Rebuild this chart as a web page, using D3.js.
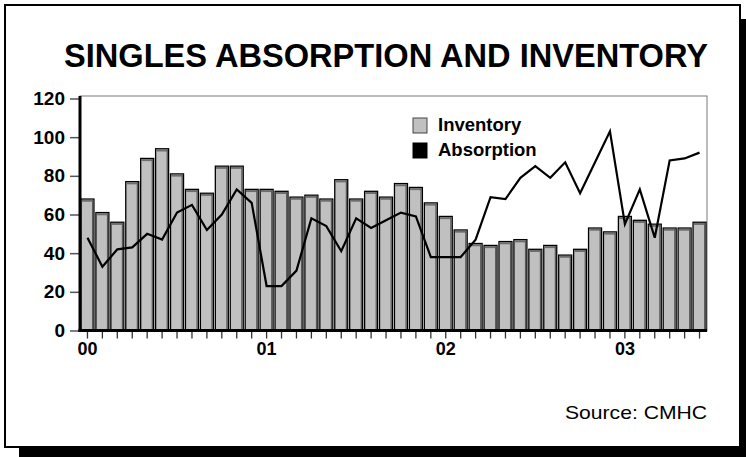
<!DOCTYPE html>
<html>
<head>
<meta charset="utf-8">
<script src="https://cdn.jsdelivr.net/npm/d3@7/dist/d3.min.js"></script>
<style>
  body { margin: 0; background: #fff; }
  svg { display: block; font-family: "Liberation Sans", Arial, sans-serif; }
</style>
</head>
<body>
<svg width="746" height="457"></svg>
<script>
// monthly periods, Jan 2000 to Jun 2003
const months = [
  "00-01", "00-02", "00-03", "00-04", "00-05", "00-06", "00-07", "00-08", "00-09", "00-10", "00-11", "00-12",
  "01-01", "01-02", "01-03", "01-04", "01-05", "01-06", "01-07", "01-08", "01-09", "01-10", "01-11", "01-12",
  "02-01", "02-02", "02-03", "02-04", "02-05", "02-06", "02-07", "02-08", "02-09", "02-10", "02-11", "02-12",
  "03-01", "03-02", "03-03", "03-04", "03-05", "03-06"
];

const inventory = [
  68, 61, 56, 77, 89, 94, 81, 73, 71, 85, 85, 73,
  73, 72, 69, 70, 68, 78, 68, 72, 69, 76, 74, 66,
  59, 52, 45, 44, 46, 47, 42, 44, 39, 42, 53, 51,
  59, 57, 55, 53, 53, 56
];

const absorption = [
  48, 33, 42, 43, 50, 47, 61, 65, 52, 60, 73, 66,
  23, 23, 31, 58, 54, 41, 58, 53, 57, 61, 59, 38,
  38, 38, 47, 69, 68, 79, 85, 79, 87, 71, 87, 103,
  55, 73, 48, 88, 89, 92
];

const yearTicks = ["00-01", "01-01", "02-01", "03-01"];
const yearLabels = ["00", "01", "02", "03"];
const yTicks = [0, 20, 40, 60, 80, 100, 120];
const seriesNames = ["Inventory", "Absorption"];
const title = "SINGLES ABSORPTION AND INVENTORY";
const source = "Source: CMHC";

const svg = d3.select("svg");

// outer box with drop shadow
svg.append("rect")
  .attr("x", 19).attr("y", 19)
  .attr("width", 740).attr("height", 450)
  .attr("fill", "#000");

svg.append("rect")
  .attr("x", 5).attr("y", 5)
  .attr("width", 735).attr("height", 442)
  .attr("fill", "#fff")
  .attr("stroke", "#000")
  .attr("stroke-width", 2);

svg.append("text")
  .attr("x", 64).attr("y", 67)
  .attr("font-size", 32.5)
  .attr("font-weight", "bold")
  .attr("textLength", 644)
  .attr("lengthAdjust", "spacingAndGlyphs")
  .text(title);

svg.append("text")
  .attr("x", 565).attr("y", 419)
  .attr("font-size", 19)
  .attr("textLength", 142)
  .attr("lengthAdjust", "spacingAndGlyphs")
  .text(source);

// plot area
const plot = { left: 80, right: 707, top: 96, bottom: 331 };

const x = d3.scaleBand()
  .domain(months)
  .range([plot.left, plot.right])
  .paddingInner(0.13)
  .paddingOuter(0.065);

const y = d3.scaleLinear()
  .domain([0, 120])
  .range([330.5, 98.5]);

// frame on top / right
svg.append("rect")
  .attr("x", plot.left).attr("y", plot.top)
  .attr("width", plot.right - plot.left)
  .attr("height", plot.bottom - plot.top)
  .attr("fill", "none")
  .attr("stroke", "#7a7a7a")
  .attr("stroke-width", 1);

// bars
const bars = svg.append("g");
bars.selectAll("rect.bar")
  .data(inventory)
  .join("rect")
  .attr("class", "bar")
  .attr("x", (d, i) => x(months[i]))
  .attr("y", (d) => y(d))
  .attr("width", x.bandwidth())
  .attr("height", (d) => y(0) - y(d))
  .attr("fill", "#c0c0c0")
  .attr("stroke", "#000")
  .attr("stroke-width", 1.3);

// darker top face and right side for the 3d look
bars.selectAll("rect.cap")
  .data(inventory)
  .join("rect")
  .attr("class", "cap")
  .attr("x", (d, i) => x(months[i]) + 0.7)
  .attr("y", (d) => y(d) + 0.7)
  .attr("width", x.bandwidth() - 1.4)
  .attr("height", 2)
  .attr("fill", "#6e6e6e");

bars.selectAll("rect.side")
  .data(inventory)
  .join("rect")
  .attr("class", "side")
  .attr("x", (d, i) => x(months[i]) + x.bandwidth() - 2)
  .attr("y", (d) => y(d) + 0.7)
  .attr("width", 1.3)
  .attr("height", (d) => y(0) - y(d) - 0.7)
  .attr("fill", "#5a5a5a");

// absorption line
const lineGen = d3.line()
  .x((d, i) => x(months[i]) + x.bandwidth() / 2)
  .y((d) => y(d));

svg.append("path")
  .datum(absorption)
  .attr("d", lineGen)
  .attr("fill", "none")
  .attr("stroke", "#000")
  .attr("stroke-width", 2.2)
  .attr("stroke-linejoin", "miter");

// axes
const yAxis = d3.axisLeft(y)
  .tickValues(yTicks)
  .tickSize(10)
  .tickPadding(5);

const yAxisG = svg.append("g")
  .attr("transform", `translate(${plot.left},0)`)
  .call(yAxis);
yAxisG.select(".domain").remove();
yAxisG.selectAll(".tick line").attr("stroke", "#555").attr("stroke-width", 1.5);
yAxisG.selectAll(".tick text")
  .attr("font-family", "Liberation Sans, Arial, sans-serif")
  .attr("font-size", 19)
  .attr("font-weight", "bold")
  .attr("fill", "#000");

const xAxis = d3.axisBottom(x)
  .tickSize(8)
  .tickPadding(4)
  .tickFormat((d) => {
    const k = yearTicks.indexOf(d);
    return k >= 0 ? yearLabels[k] : "";
  });

const xAxisG = svg.append("g")
  .attr("transform", `translate(0,${y(0)})`)
  .call(xAxis);
xAxisG.select(".domain").remove();
xAxisG.selectAll(".tick line").attr("stroke", "#333").attr("stroke-width", 1.3);
xAxisG.selectAll(".tick text")
  .attr("font-family", "Liberation Sans, Arial, sans-serif")
  .attr("font-size", 18)
  .attr("font-weight", "bold")
  .attr("fill", "#000");

// heavy axis lines
svg.append("line")
  .attr("x1", plot.left).attr("x2", plot.left)
  .attr("y1", plot.top).attr("y2", y(0) + 1.5)
  .attr("stroke", "#000").attr("stroke-width", 3);

svg.append("line")
  .attr("x1", plot.left - 1.5).attr("x2", plot.right)
  .attr("y1", y(0)).attr("y2", y(0))
  .attr("stroke", "#000").attr("stroke-width", 3);

// legend
const legend = svg.append("g").attr("transform", "translate(413,118)");
const legendFill = ["#c0c0c0", "#000"];

legend.selectAll("rect")
  .data(seriesNames)
  .join("rect")
  .attr("x", 0)
  .attr("y", (d, i) => i * 25)
  .attr("width", 14)
  .attr("height", 15)
  .attr("fill", (d, i) => legendFill[i])
  .attr("stroke", (d, i) => (i === 0 ? "#444" : "#000"))
  .attr("stroke-width", 1);

legend.selectAll("text")
  .data(seriesNames)
  .join("text")
  .attr("x", 25)
  .attr("y", (d, i) => i * 25 + 13)
  .attr("font-size", 18.5)
  .attr("font-weight", "bold")
  .text((d) => d);
</script>
</body>
</html>
